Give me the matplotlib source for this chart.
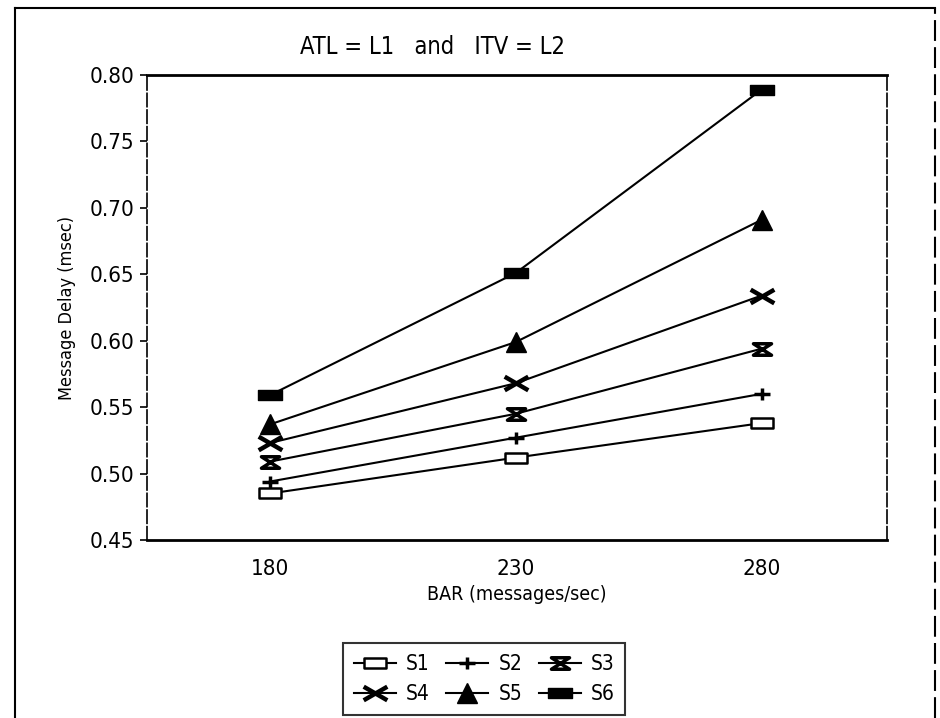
import numpy as np
import matplotlib.pyplot as plt
from matplotlib.path import Path
from matplotlib.lines import Line2D

# --- DATI ---
bar_rate = [180, 230, 280]
series_names = ['S1', 'S2', 'S3', 'S4', 'S5', 'S6']
s1 = [0.485, 0.512, 0.538]
s2 = [0.494, 0.527, 0.560]
s3 = [0.509, 0.545, 0.594]
s4 = [0.523, 0.568, 0.634]
s5 = [0.537, 0.599, 0.691]
s6 = [0.559, 0.651, 0.789]
y_ticks = [0.45, 0.50, 0.55, 0.60, 0.65, 0.70, 0.75, 0.80]

plt.rcParams['font.family'] = ['DejaVu Sans']
plt.rcParams['font.stretch'] = 'condensed'

# --- MARKER PERSONALIZZATI ---
rect_wide = Path([(-1.3, -0.55), (1.3, -0.55), (1.3, 0.55), (-1.3, 0.55), (-1.3, -0.55)],
                 [Path.MOVETO, Path.LINETO, Path.LINETO, Path.LINETO, Path.CLOSEPOLY])
hourglass = Path([(-1.1, 0.7), (1.1, 0.7), (-1.1, -0.7), (1.1, -0.7), (-1.1, 0.7)],
                 [Path.MOVETO, Path.LINETO, Path.LINETO, Path.LINETO, Path.CLOSEPOLY])
x_wide = Path([(-1.3, -0.75), (1.3, 0.75), (-1.3, 0.75), (1.3, -0.75)],
              [Path.MOVETO, Path.LINETO, Path.MOVETO, Path.LINETO])
plus_flat = Path([(-1.2, 0), (1.2, 0), (0, -0.9), (0, 0.9)],
                 [Path.MOVETO, Path.LINETO, Path.MOVETO, Path.LINETO])

styles = [
    dict(marker=rect_wide, markersize=16, markerfacecolor='white', markeredgewidth=1.8),
    dict(marker=plus_flat, markersize=12, markeredgewidth=2.5),
    dict(marker=hourglass, markersize=13, markerfacecolor='white', markeredgewidth=2.5),
    dict(marker=x_wide, markersize=17, markeredgewidth=3.2),
    dict(marker='^', markersize=15, markerfacecolor='black', markeredgewidth=1),
    dict(marker=rect_wide, markersize=17, markerfacecolor='black', markeredgewidth=1),
]

fig = plt.figure(figsize=(9.4, 7.18), dpi=100)
ax = fig.add_axes([147 / 940, 1 - 540 / 718, 740 / 940, 465 / 718])

handles = []
for name, vals, st in zip(series_names, [s1, s2, s3, s4, s5, s6], styles):
    h, = ax.plot(bar_rate, vals, color='black', linewidth=1.5,
                 markeredgecolor='black', label=name, **st)
    handles.append(h)

ax.set_xlim(155, 305.5)
ax.set_ylim(0.45, 0.80)
ax.set_xticks(bar_rate)
ax.set_yticks(y_ticks)
ax.set_yticklabels([f'{v:.2f}' for v in y_ticks])
ax.tick_params(axis='x', length=0, labelsize=16, pad=14)
ax.tick_params(axis='y', length=5, width=1.2, direction='out', labelsize=16, pad=4)

for side in ['top', 'bottom']:
    ax.spines[side].set_linewidth(2)
for side in ['left', 'right']:
    ax.spines[side].set_linewidth(1.2)
    ax.spines[side].set_linestyle((0, (8, 2)))

ax.set_xlabel('BAR (messages/sec)', fontsize=14, labelpad=4)
ax.set_ylabel('Message Delay (msec)', fontsize=13, labelpad=10)

fig.text(432 / 940, 1 - 47 / 718, 'ATL = L1   and   ITV = L2', ha='center', va='center', fontsize=17)

# Legenda: riga 1 = S1 S2 S3, riga 2 = S4 S5 S6
order = [0, 3, 1, 4, 2, 5]
leg = fig.legend([handles[i] for i in order], [series_names[i] for i in order],
                 ncol=3, loc='upper left', bbox_to_anchor=(333 / 940, 1 - 633 / 718),
                 fontsize=15, frameon=True, fancybox=False, edgecolor='black',
                 handlelength=2.0, columnspacing=0.8, handletextpad=0.5,
                 borderpad=0.5, labelspacing=0.5)
leg.get_frame().set_linewidth(1.5)

# Cornice esterna
fig.add_artist(Line2D([15 / 940, 15 / 940], [0, 1 - 8 / 718], color='black', linewidth=1.5, transform=fig.transFigure))
fig.add_artist(Line2D([15 / 940, 935 / 940], [1 - 8 / 718, 1 - 8 / 718], color='black', linewidth=1.5, transform=fig.transFigure))
fig.add_artist(Line2D([935 / 940, 935 / 940], [0, 1 - 8 / 718], color='black', linewidth=1.5, linestyle=(0, (10, 3)), transform=fig.transFigure))

fig.savefig('out.png', dpi=100)
